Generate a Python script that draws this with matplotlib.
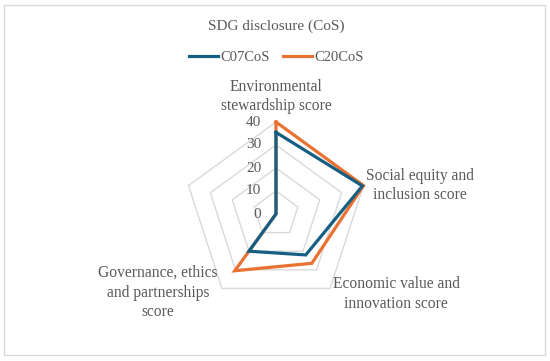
import numpy as np
import matplotlib
matplotlib.use("Agg")
import matplotlib.pyplot as plt
from matplotlib.patches import Rectangle
from matplotlib.lines import Line2D

categories = ["Environmental\nstewardship score",
              "Social equity and\ninclusion score",
              "Economic value and\ninnovation score",
              "Governance, ethics\nand partnerships\nscore",
              ""]
series_names = ["C07CoS", "C20CoS"]
c07 = [35.5, 39.5, 22, 20, 0]
c20 = [40, 40, 26.5, 30.5, 0]
rticks = [0, 10, 20, 30, 40]
title = "SDG disclosure (CoS)"

BLUE = "#156082"
ORANGE = "#E97132"
GRID = "#D9D9D9"
TXT = "#595959"
FONT = "Liberation Serif"

W, H = 550, 361
fig = plt.figure(figsize=(W / 100, H / 100), dpi=100)
fig.patch.set_facecolor("white")

cx, cy, R = 276, 214, 92
ax = fig.add_axes([(cx - R) / W, (H - cy - R) / H, 2 * R / W, 2 * R / H],
                  projection="polar")
ax.set_theta_offset(np.pi / 2)
ax.set_theta_direction(-1)
ax.set_ylim(0, 40)
ax.grid(False)
ax.spines["polar"].set_visible(False)
ax.set_xticks([])
ax.set_yticks([])
ax.patch.set_alpha(0)

n = len(categories)
angles = np.linspace(0, 2 * np.pi, n, endpoint=False)
ang_c = np.concatenate([angles, angles[:1]])

for r in rticks[1:]:
    ax.plot(ang_c, [r] * (n + 1), color=GRID, lw=1.0, zorder=1, clip_on=False)

ax.plot(ang_c, c20 + c20[:1], color=ORANGE, lw=2.3, zorder=3, clip_on=False,
        solid_joinstyle="miter")
ax.plot(ang_c, c07 + c07[:1], color=BLUE, lw=2.3, zorder=4, clip_on=False,
        solid_joinstyle="miter")

for r in rticks:
    ax.annotate(str(r), xy=(0, r), xytext=(-10.5, 0), textcoords="offset points",
                ha="right", va="center", fontsize=11, color=TXT, family=FONT)

# category labels
label_cfg = [((0, 5.5), "center", "bottom"),
             ((2, 0), "left", "center"),
             ((2, -4), "left", "center"),
             ((-3, -3), "right", "center"),
             ((-3, 0), "right", "center")]
for a, lab, (off, ha, va) in zip(angles, categories, label_cfg):
    if lab:
        ax.annotate(lab, xy=(a, 40), xytext=off, textcoords="offset points",
                    ha=ha, va=va, multialignment="center", fontsize=11.2,
                    color=TXT, family=FONT, linespacing=1.3)

fig.text(cx / W, 1 - 26 / H, title, ha="center", va="center", fontsize=11,
         color=TXT, family=FONT)

handles = [Line2D([], [], color=BLUE, lw=2.3), Line2D([], [], color=ORANGE, lw=2.3)]
leg = fig.legend(handles, series_names, loc="center", bbox_to_anchor=(cx / W, 1 - 57 / H),
                 ncol=2, frameon=False, handlelength=2.0, handletextpad=0.15,
                 columnspacing=0.9, prop={"family": FONT, "size": 10.5})
for t in leg.get_texts():
    t.set_color(TXT)

fig.patches.append(Rectangle((4 / W, 1 - 355 / H), 541 / W, 350 / H,
                             transform=fig.transFigure, fill=False,
                             edgecolor=GRID, lw=1.0))

fig.savefig("out.png", dpi=100)
